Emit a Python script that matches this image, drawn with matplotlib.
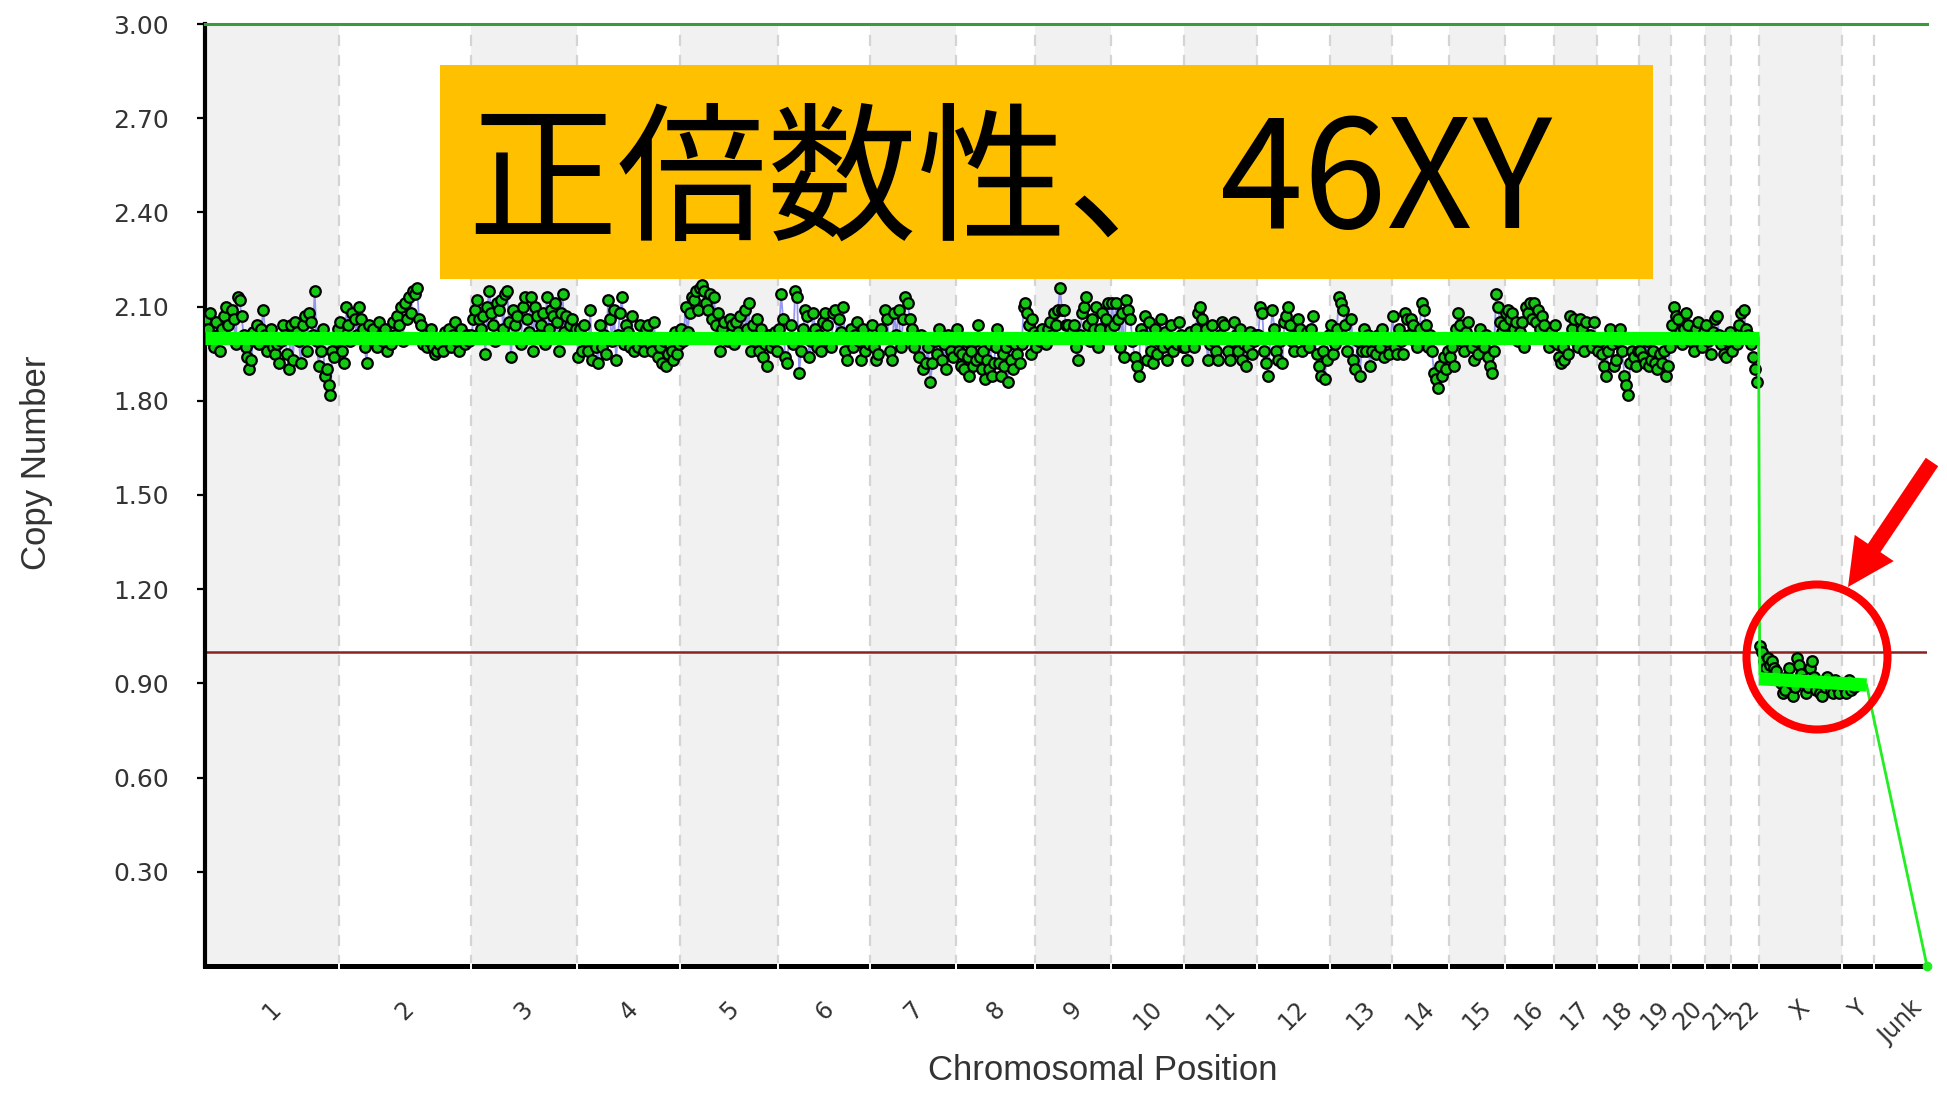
import numpy as np
import matplotlib.pyplot as plt
from matplotlib.patches import Rectangle, Ellipse, FancyArrow

# chromosome names and sizes (Mb, hg19) -> x scale
chrom_names = [str(i) for i in range(1, 23)] + ['X', 'Y', 'Junk']
chrom_mb = [249, 243, 198, 191, 181, 171, 159, 146, 141, 136, 135, 134,
            115, 107, 103, 90, 81, 78, 59, 63, 48, 51, 155, 59, 98]

# probe copy numbers (x100), left to right along each chromosome
cn1 = [206, 203, 208, 199, 197, 205, 201, 196, 203, 207, 210, 204, 200, 209, 206, 198, 213,
       212, 207, 201, 197, 194, 190, 193, 202, 199, 204, 198, 203, 209, 201, 196, 199, 203,
       197, 195, 198, 192, 199, 204, 201, 195, 190, 204, 193, 205, 202, 199, 192, 204, 207,
       196, 208, 205, 201, 215, 199, 191, 196, 203, 188, 190, 185, 182, 196, 194, 199, 203]
cn2 = [205, 196, 192, 210, 204, 199, 208, 206, 201, 210, 206, 203, 197, 192, 204, 200, 203,
       199, 197, 205, 201, 199, 203, 196, 200, 198, 205, 201, 207, 204, 210, 199, 211, 206,
       213, 208, 215, 214, 216, 206, 204, 198, 201, 197, 199, 203, 197, 195, 196, 198, 200,
       196, 202, 199, 203, 197, 201, 205, 199, 196, 203, 200, 198, 201, 199]
cn3 = [201, 206, 209, 212, 206, 203, 207, 195, 210, 215, 208, 204, 199, 211, 209, 212, 203,
       214, 215, 205, 194, 209, 204, 207, 200, 198, 210, 213, 206, 202, 213, 196, 210, 207,
       201, 204, 208, 198, 213, 203, 209, 207, 211, 205, 196, 208, 214, 202, 207, 200, 204,
       206, 201, 203]
cn4 = [194, 203, 196, 204, 199, 196, 209, 193, 200, 197, 192, 204, 197, 201, 195, 212, 206,
       199, 209, 193, 201, 208, 213, 198, 204, 202, 197, 207, 196, 200, 197, 204, 199, 196,
       203, 204, 198, 196, 205, 199, 194, 197, 192, 199, 191, 195, 198, 196, 193, 202, 195, 198]
cn5 = [203, 199, 210, 202, 208, 213, 212, 215, 209, 216, 217, 215, 211, 209, 214, 206, 213,
       204, 208, 196, 203, 205, 200, 199, 206, 204, 198, 205, 202, 207, 200, 209, 203, 211,
       196, 204, 199, 206, 196, 203, 194, 198, 191, 201, 197, 199, 202, 196]
cn6 = [203, 214, 206, 194, 192, 200, 204, 198, 215, 213, 189, 196, 203, 209, 207, 194, 199,
       208, 203, 197, 201, 196, 205, 208, 204, 198, 197, 208, 209, 200, 206, 202, 210, 196,
       193, 199, 203, 197, 201, 205, 199, 193, 203, 196, 200, 198]
cn7 = [204, 197, 193, 195, 203, 200, 209, 206, 196, 193, 208, 201, 209, 197, 206, 213, 211,
       206, 203, 197, 200, 194, 201, 190, 192, 197, 186, 192, 199, 195, 203, 193, 198, 190,
       201, 196, 194, 199]
cn8 = [203, 196, 191, 195, 190, 199, 194, 188, 196, 191, 199, 193, 204, 194, 190, 196, 187,
       193, 190, 198, 188, 192, 197, 203, 192, 188, 195, 191, 197, 186, 199, 193, 190, 198,
       195, 200, 192, 198, 210, 211, 208, 204, 195, 206, 202]
cn9 = [197, 201, 199, 203, 200, 198, 203, 205, 201, 208, 204, 209, 216, 209, 209, 204, 204,
       200, 202, 204, 197, 193, 201, 208, 210, 213, 204, 199, 206, 203, 210, 197, 203, 208,
       200, 206, 211, 203]
cn10 = [211, 204, 211, 206, 197, 208, 194, 212, 209, 206, 199, 194, 191, 188, 203, 201, 207,
        193, 205, 196, 192, 203, 195, 199, 206, 197, 202, 193, 198, 204, 196, 200, 198, 205,
        201, 197]
cn11 = [197, 193, 202, 199, 197, 203, 208, 210, 206, 201, 203, 193, 198, 204, 199, 196, 193,
        201, 205, 204, 200, 196, 193, 199, 205, 201, 196, 203, 193, 198, 191, 197, 202, 195,
        199, 201]
cn12 = [201, 210, 208, 196, 192, 188, 200, 209, 203, 196, 193, 199, 192, 205, 207, 210, 204,
        199, 196, 201, 206, 203, 196, 199, 202, 197, 203, 207, 200, 195, 191, 188, 196, 187,
        193, 201]
cn13 = [204, 195, 198, 203, 213, 211, 209, 204, 196, 200, 206, 193, 190, 199, 188, 196, 203,
        196, 201, 191, 196, 199, 195, 201, 197, 203, 194, 199, 195, 200]
cn14 = [207, 197, 195, 203, 199, 195, 208, 206, 201, 206, 204, 199, 197, 203, 211, 209, 204,
        197, 201, 196, 189, 187, 184, 191, 188, 194, 190, 196]
cn15 = [194, 197, 191, 203, 208, 204, 199, 196, 202, 205, 200, 197, 193, 199, 195, 203, 199,
        197, 201, 194, 191, 189, 196, 214, 210, 205, 202, 204]
cn16 = [208, 209, 206, 208, 203, 205, 199, 202, 205, 197, 210, 208, 211, 206, 211, 205, 209,
        203, 207, 204, 200, 197, 202, 199]
cn17 = [204, 198, 194, 192, 197, 193, 200, 195, 207, 203, 206, 199, 197, 206, 203, 196, 205,
        199, 201, 197, 205, 199]
cn18 = [196, 199, 195, 191, 188, 196, 203, 198, 191, 193, 199, 203, 196, 188, 185, 182, 192,
        196, 194, 191, 196]
cn19 = [196, 194, 192, 199, 191, 193, 196, 192, 190, 195, 192, 196, 188, 191, 197]
cn20 = [204, 210, 207, 206, 202, 198, 203, 208, 204, 199, 201, 196, 203, 205, 199, 197, 202]
cn21 = [204, 199, 195, 202, 206, 207, 201, 198, 195, 194, 199, 202]
cn22 = [196, 200, 198, 204, 208, 209, 203, 201, 198, 194, 190, 186]
cnX = [102, 100, 97, 95, 98, 96, 97, 95, 94, 91, 90, 87, 88, 92, 95, 90, 86, 89, 98, 96,
       93, 91, 87, 89, 95, 97, 92, 88, 90, 87, 86, 89, 92, 90, 88, 87, 91, 89, 87, 90]
cnY = [89, 87, 91, 88, 89]
probe_cn = [cn1, cn2, cn3, cn4, cn5, cn6, cn7, cn8, cn9, cn10, cn11, cn12, cn13, cn14,
            cn15, cn16, cn17, cn18, cn19, cn20, cn21, cn22, cnX, cnY]
probe_span = [1.0] * 23 + [0.4]   # Y probes only on part of the chromosome

# segmentation calls (Mb, copy number)
auto_seg_x = [0, 2879]
auto_seg_y = [2.00, 2.00]
sex_seg_x = [2880, 3079]
sex_seg_y = [0.915, 0.895]
drop_x = [2879, 2880, 2881]
drop_y = [2.00, 1.45, 0.93]
junk_x = [3079, 3191]
junk_y = [0.895, 0.0]

yticks = [0.3, 0.6, 0.9, 1.2, 1.5, 1.8, 2.1, 2.4, 2.7, 3.0]

plt.rcParams['font.family'] = ['DejaVu Sans']

fig = plt.figure(figsize=(19.47, 10.95), dpi=100)
ax = fig.add_axes([205 / 1947, 129 / 1095, 1722 / 1947, 942 / 1095])

bounds = np.concatenate([[0], np.cumsum(chrom_mb)])
centers = (bounds[:-1] + bounds[1:]) / 2

# alternating bands and dashed separators
for i in range(len(chrom_mb)):
    if i % 2 == 0 and chrom_names[i] != 'Junk':
        ax.axvspan(bounds[i], bounds[i + 1], color='#f1f1f1', lw=0, zorder=0)
for b in bounds[1:-1]:
    ax.axvline(b, color='#d4d4d4', lw=1.6, ls=(0, (5, 4)), zorder=0.5)

# probes
xs, ys = [], []
for i, cn in enumerate(probe_cn):
    n = len(cn)
    span = chrom_mb[i] * probe_span[i]
    step = span / n
    xs.extend(bounds[i] + step / 2 + step * np.arange(n))
    ys.extend(np.array(cn) / 100)
xs = np.array(xs)
ys = np.array(ys)
n_auto = sum(len(c) for c in probe_cn[:22])

ax.plot(xs[:n_auto], ys[:n_auto], color='#8585ee', lw=1.3, alpha=0.85, zorder=2)
ax.plot(xs[n_auto:], ys[n_auto:], color='#8585ee', lw=1.3, alpha=0.85, zorder=2)
ax.plot(xs, ys, ls='none', marker='o', ms=7.6, mfc='#14c814', mec='black', mew=1.6, zorder=3)

# segments
ax.plot(drop_x, drop_y, color='#22ee22', lw=2, zorder=4)
ax.plot(junk_x, junk_y, color='#22ee22', lw=2, zorder=4, clip_on=False)
ax.plot(junk_x[-1:], junk_y[-1:], ls='none', marker='o', ms=6, color='#22ee22', zorder=6, clip_on=False)
ax.plot(auto_seg_x, auto_seg_y, color='#00ff00', lw=9.5, solid_capstyle='butt', zorder=5)
ax.plot(sex_seg_x, sex_seg_y, color='#00ff00', lw=9.5, solid_capstyle='butt', zorder=5)

# reference lines
ax.axhline(3.0, color='#3b9a3b', lw=2.2, zorder=4, clip_on=False)
ax.axhline(1.0, color='#8b2222', lw=1.8, zorder=1.5)

ax.set_xlim(0, bounds[-1])
ax.set_ylim(0, 3.0)

for s in ['top', 'right']:
    ax.spines[s].set_visible(False)
ax.spines['left'].set_linewidth(3)
ax.spines['bottom'].set_linewidth(3.6)

ax.set_yticks(yticks)
ax.set_yticklabels(['%.2f' % v for v in yticks])
ax.tick_params(axis='y', direction='out', length=6, width=1.6, pad=20,
               labelsize=18, labelcolor='#333333')

ax.set_xticks(bounds[1:-1])
ax.set_xticklabels([])
ax.tick_params(axis='x', which='major', direction='inout', length=5, width=1.4, color='white')
ax.set_xticks(centers, minor=True)
ax.set_xticklabels(chrom_names, minor=True, rotation=45)
ax.tick_params(axis='x', which='minor', length=0, pad=22, labelsize=17, labelcolor='#333333')
ax.xaxis.set_zorder(3)

ax.set_xlabel('Chromosomal Position', fontsize=25, color='#333333', family='Liberation Sans')
ax.xaxis.set_label_coords(0.5215, -0.093)
ax.set_ylabel('Copy Number', fontsize=25, color='#333333', family='Liberation Sans')
ax.yaxis.set_label_coords(-0.088, 0.534)

# overlay annotations in pixel coordinates
ov = fig.add_axes([0, 0, 1, 1], zorder=10)
ov.set_xlim(0, 1947)
ov.set_ylim(1095, 0)
ov.axis('off')
ov.add_patch(Rectangle((440, 65), 1213, 214, color='#ffc000', lw=0))
ov.text(467, 186, '正倍数性、', fontsize=108, ha='left', va='center',
        family=['Noto Sans CJK JP', 'DejaVu Sans'], color='black')
ov.text(1552, 186, '46XY', fontsize=108, ha='right', va='center',
        family=['Noto Sans CJK JP', 'DejaVu Sans'], color='black')
ov.add_patch(Ellipse((1817, 657), 141, 145, fill=False, ec='#ff0000', lw=5.8))
ov.add_patch(FancyArrow(1932, 462, -84, 125, width=15, head_width=47, head_length=47,
                        length_includes_head=True, color='#ff0000', lw=0))

fig.savefig('out.png', dpi=100)
